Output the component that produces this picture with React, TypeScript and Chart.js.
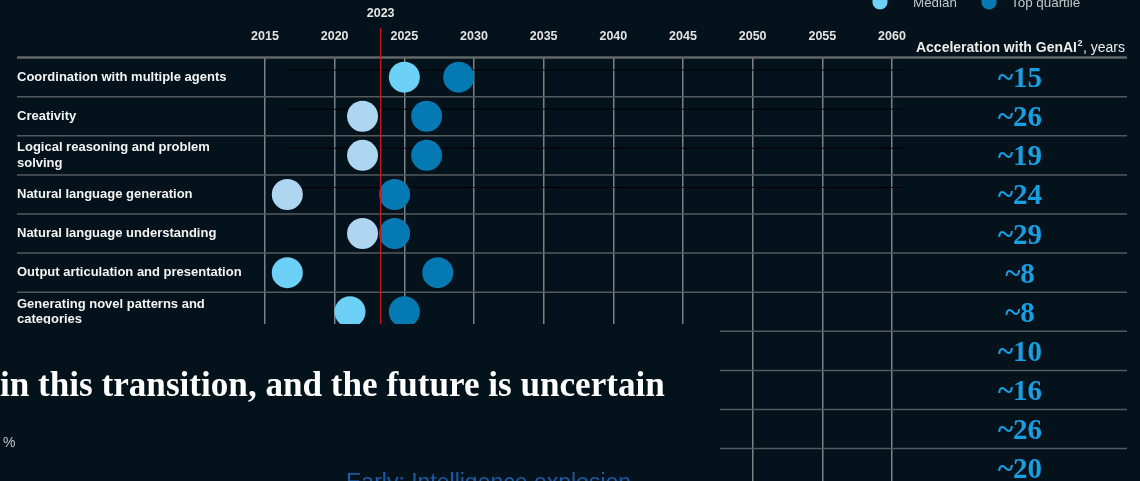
import React, { useEffect, useRef } from "react";
import { Chart, registerables } from "chart.js";

Chart.register(...registerables);

// ---- data ----
const rowLabels: string[][] = [
  ["Coordination with multiple agents"],
  ["Creativity"],
  ["Logical reasoning and problem", "solving"],
  ["Natural language generation"],
  ["Natural language understanding"],
  ["Output articulation and presentation"],
  ["Generating novel patterns and", "categories"],
];
const medianYears = [2025.0, 2022.0, 2022.0, 2016.6, 2022.0, 2016.6, 2021.1];
const topQuartileYears = [2028.9, 2026.6, 2026.6, 2024.3, 2024.3, 2027.4, 2025.0];
const medianShade = ["bright", "pale", "pale", "pale", "pale", "bright", "bright"];
const accelerationLabels = ["~15", "~26", "~19", "~24", "~29", "~8", "~8", "~10", "~16", "~26", "~20"];
const yearTicks = [2015, 2020, 2025, 2030, 2035, 2040, 2045, 2050, 2055, 2060];
const markerYear = 2023.3;
const markerLabel = "2023";
const rangeRows = [0, 1, 2, 3];
const rangeStartYear = 2016.65;
const rangeEndYear = 2060.75;
const legendLabels = ["Median", "Top quartile"];
const headerBold = "Acceleration with GenAI";
const headerSup = "2";
const headerRest = ", years";
const overlayHeadline = "in this transition, and the future is uncertain";
const overlayPercent = "%";
const overlaySubtitle = "Early: Intelligence explosion";

// ---- style ----
const BG = "#03121b";
const BRIGHT = "#6dd0f7";
const PALE = "#afd6f1";
const DARK = "#0479b2";
const VALUE_BLUE = "#169fe3";
const SANS = "'Liberation Sans', Arial, sans-serif";
const SERIF = "'Liberation Serif', 'Times New Roman', serif";
const ROW_H = 39.1;
const TOP = 57.6;
const H = 481;
const W = 1140;

const decorPlugin = {
  id: "decor",
  beforeDraw(chart: any) {
    const ctx = chart.ctx;
    ctx.save();
    ctx.fillStyle = BG;
    ctx.fillRect(0, 0, chart.width, chart.height);
    ctx.restore();
  },
  beforeDatasetsDraw(chart: any) {
    const ctx = chart.ctx;
    const y = chart.scales.y;
    ctx.save();
    for (let i = 0; i <= accelerationLabels.length; i++) {
      const py = y.getPixelForValue(i);
      ctx.beginPath();
      ctx.strokeStyle = i === 0 ? "#62676a" : "#545a5e";
      ctx.lineWidth = i === 0 ? 2.5 : 1.5;
      ctx.moveTo(17, py);
      ctx.lineTo(1127, py);
      ctx.stroke();
    }
    // row labels
    ctx.fillStyle = "#f4f4f4";
    ctx.font = `bold 13px ${SANS}`;
    ctx.textAlign = "left";
    ctx.textBaseline = "middle";
    const lh = 15.5;
    rowLabels.forEach((lines, i) => {
      const cy = y.getPixelForValue(i + 0.5);
      lines.forEach((ln, k) => {
        ctx.fillText(ln, 17, cy + (k - (lines.length - 1) / 2) * lh);
      });
    });
    ctx.restore();
  },
  afterDatasetsDraw(chart: any) {
    const ctx = chart.ctx;
    const x = chart.scales.x;
    const y = chart.scales.y;
    ctx.save();
    // marker line
    const mx = x.getPixelForValue(markerYear);
    ctx.beginPath();
    ctx.strokeStyle = "#c3161c";
    ctx.lineWidth = 1.5;
    ctx.moveTo(mx, 28);
    ctx.lineTo(mx, H);
    ctx.stroke();
    ctx.fillStyle = "#e6e6e6";
    ctx.font = `bold 12.5px ${SANS}`;
    ctx.textAlign = "center";
    ctx.textBaseline = "middle";
    ctx.fillText(markerLabel, mx, 14);

    // value labels
    ctx.fillStyle = VALUE_BLUE;
    ctx.font = `bold 29px ${SERIF}`;
    accelerationLabels.forEach((t, i) => {
      ctx.fillText(t, 1020, y.getPixelForValue(i + 0.5) + 2.5);
    });

    // header
    ctx.textBaseline = "alphabetic";
    ctx.textAlign = "left";
    ctx.fillStyle = "#ececec";
    ctx.font = `normal 14px ${SANS}`;
    const wRest = ctx.measureText(headerRest).width;
    ctx.font = `bold 9px ${SANS}`;
    const wSup = ctx.measureText(headerSup).width;
    ctx.font = `bold 14px ${SANS}`;
    const wBold = ctx.measureText(headerBold).width;
    const right = 1125;
    let hx = right - wRest - wSup - wBold - 1;
    ctx.fillText(headerBold, hx, 52);
    hx += wBold + 0.5;
    ctx.font = `bold 9px ${SANS}`;
    ctx.fillText(headerSup, hx, 46);
    hx += wSup + 0.5;
    ctx.font = `normal 14px ${SANS}`;
    ctx.fillText(headerRest, hx, 52);

    // legend (partly above the frame)
    const legendItems = [
      { cx: 880, color: BRIGHT, tx: 913 },
      { cx: 989, color: DARK, tx: 1011 },
    ];
    legendItems.forEach((it, i) => {
      ctx.beginPath();
      ctx.fillStyle = it.color;
      ctx.arc(it.cx, 1.8, 7.6, 0, Math.PI * 2);
      ctx.fill();
      ctx.fillStyle = "#c4c7ca";
      ctx.font = `normal 13.4px ${SANS}`;
      ctx.fillText(legendLabels[i], it.tx, 6.5);
    });

    // overlaid fragment of another page
    ctx.fillStyle = BG;
    ctx.fillRect(0, 324, 720, H - 324);
    ctx.fillStyle = "#ffffff";
    ctx.font = `bold 35px ${SERIF}`;
    const hw = ctx.measureText(overlayHeadline).width;
    const size = (35 * 665) / hw;
    ctx.font = `bold ${size}px ${SERIF}`;
    ctx.fillText(overlayHeadline, 0, 395.5);
    ctx.fillStyle = "#bfc2c4";
    ctx.font = `normal 14px ${SANS}`;
    ctx.fillText(overlayPercent, 3, 447);
    ctx.fillStyle = "#1c5aa5";
    ctx.font = `normal 23px ${SANS}`;
    ctx.fillText(overlaySubtitle, 346, 490);
    ctx.restore();
  },
};

export default function App() {
  const ref = useRef<HTMLCanvasElement | null>(null);

  useEffect(() => {
    if (!ref.current) return;
    const rangeSets = rangeRows.map((r) => ({
      label: "range" + r,
      data: [
        { x: rangeStartYear, y: r + 0.32 },
        { x: rangeEndYear, y: r + 0.32 },
      ],
      showLine: true,
      borderColor: "#000000",
      borderWidth: 1,
      pointRadius: 0,
      order: 5,
      clip: false as any,
    }));
    const chart = new Chart(ref.current, {
      type: "scatter",
      data: {
        datasets: [
          {
            label: legendLabels[0],
            data: medianYears.map((v, i) => ({ x: v, y: i + 0.5 })),
            pointRadius: 15.5,
            pointHoverRadius: 15.5,
            pointBorderWidth: 0,
            backgroundColor: medianShade.map((s) => (s === "bright" ? BRIGHT : PALE)),
            order: 1,
            clip: false as any,
          },
          {
            label: legendLabels[1],
            data: topQuartileYears.map((v, i) => ({ x: v, y: i + 0.5 })),
            pointRadius: 15.5,
            pointHoverRadius: 15.5,
            pointBorderWidth: 0,
            backgroundColor: DARK,
            order: 2,
            clip: false as any,
          },
          ...rangeSets,
        ] as any,
      },
      options: {
        animation: false,
        responsive: false,
        events: [],
        layout: { autoPadding: false, padding: { left: 17, right: 248, top: 0, bottom: 0 } },
        plugins: { legend: { display: false }, tooltip: { enabled: false } },
        scales: {
          x: {
            type: "linear",
            position: "top",
            min: 2015,
            max: 2060,
            afterBuildTicks: (s: any) => {
              s.ticks = yearTicks.map((v) => ({ value: v }));
            },
            afterFit: (s: any) => {
              s.height = TOP;
            },
            ticks: {
              autoSkip: false,
              maxRotation: 0,
              padding: 14,
              color: "#e4e4e4",
              font: { family: SANS, size: 12.5, weight: "bold" },
              callback: (v: any) => String(v),
            },
            grid: { color: "#7d8184", lineWidth: 1.5, drawTicks: false },
            border: { display: false },
          },
          y: {
            type: "linear",
            reverse: true,
            min: 0,
            max: (H - TOP) / ROW_H,
            afterFit: (s: any) => {
              s.width = 248;
            },
            ticks: { display: false },
            grid: { display: false },
            border: { display: false },
          },
        },
      } as any,
      plugins: [decorPlugin],
    });
    return () => chart.destroy();
  }, []);

  return (
    <div style={{ position: "fixed", left: 0, top: 0, width: W, height: H, background: BG }}>
      <canvas ref={ref} width={W} height={H} style={{ display: "block", width: W, height: H }} />
    </div>
  );
}
